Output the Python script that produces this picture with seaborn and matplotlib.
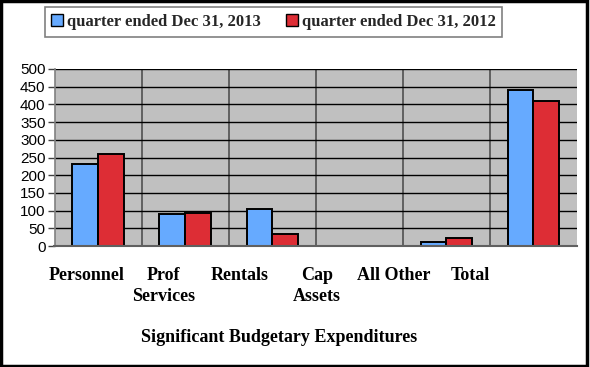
import matplotlib
matplotlib.use("Agg")
import matplotlib.pyplot as plt
import matplotlib.patches as mpatches
from matplotlib.ticker import FixedLocator
import seaborn as sns
import pandas as pd

categories = ["Personnel", "Prof\nServices", "Rentals", "Cap\nAssets", "All Other", "Total"]
series_names = ["quarter ended Dec 31, 2013", "quarter ended Dec 31, 2012"]
values_2013 = [232, 91, 105, 0, 11, 441]
values_2012 = [260, 94, 35, 0, 22, 411]
colors = ["#66AAFF", "#DD2D35"]
yticks = [0, 50, 100, 150, 200, 250, 300, 350, 400, 450, 500]
xlabel = "Significant Budgetary Expenditures"

df = pd.DataFrame({
    "cat": categories * 2,
    "val": values_2013 + values_2012,
    "series": [series_names[0]] * len(categories) + [series_names[1]] * len(categories),
})

sns.set_theme(style="white")
W, H = 590, 367
fig = plt.figure(figsize=(W / 100, H / 100), dpi=100)
ax = fig.add_axes([54.5 / W, 1 - 246 / H, (577 - 54.5) / W, (246 - 69) / H])
ax.set_facecolor("#C0C0C0")

sns.barplot(data=df, x="cat", y="val", hue="series", palette=colors, order=categories,
            hue_order=series_names, width=0.59, edgecolor="black", linewidth=1.4,
            saturation=1, legend=False, ax=ax)

ax.set_xlim(-0.5, len(categories) - 0.5)
ax.set_ylim(0, 500)
ax.set_yticks(yticks)
ax.set_yticklabels([str(v) for v in yticks], fontfamily="Liberation Sans", fontsize=11, color="black")
ax.tick_params(axis="y", length=5, width=1, color="#404040", pad=1.5, left=True)

# vertical category separators
ax.xaxis.set_minor_locator(FixedLocator([i + 0.5 for i in range(len(categories) - 1)]))
ax.grid(True, which="major", axis="y", color="black", linewidth=1)
ax.grid(True, which="minor", axis="x", color="#505050", linewidth=1.2)
ax.set_axisbelow(True)

# category labels (positioned as in reference)
label_px = [86.5 + 76.8 * i for i in range(len(categories))]
label_pos = [(p - 54.5) / ((577 - 54.5) / len(categories)) - 0.5 for p in label_px]
ax.set_xticks(label_pos)
ax.set_xticklabels(categories, fontfamily="Liberation Serif", fontweight="bold",
                   fontsize=13, color="black", linespacing=1.3, ha="center")
ax.tick_params(axis="x", which="both", length=0, pad=15)
ax.set_xlabel("")
ax.set_ylabel("")

for s in ["top", "right"]:
    ax.spines[s].set_visible(False)
ax.spines["left"].set_color("#808080")
ax.spines["bottom"].set_color("#606060")
ax.spines["left"].set_linewidth(1.2)
ax.spines["bottom"].set_linewidth(1.5)

fig.text(279 / W, 1 - 337 / H, xlabel, ha="center", va="center",
         fontfamily="Liberation Serif", fontweight="bold", fontsize=13, color="black")

handles = [mpatches.Patch(facecolor=c, edgecolor="black", linewidth=1) for c in colors]
leg = fig.legend(handles, series_names, loc="center", bbox_to_anchor=(273.5 / W, 1 - 22 / H),
                 ncol=2, frameon=True, fancybox=False, edgecolor="#606060",
                 prop={"family": "Liberation Serif", "weight": "bold", "size": 12},
                 handlelength=0.7, handleheight=0.7, handletextpad=0.25, columnspacing=1.5,
                 borderpad=0.4)
leg.get_frame().set_linewidth(1.2)

fig.patches.append(mpatches.Rectangle((0.002, 0.003), 0.993, 0.993, transform=fig.transFigure,
                                      fill=False, edgecolor="black", linewidth=2.5))

fig.savefig("out.png", dpi=100, facecolor="white")
